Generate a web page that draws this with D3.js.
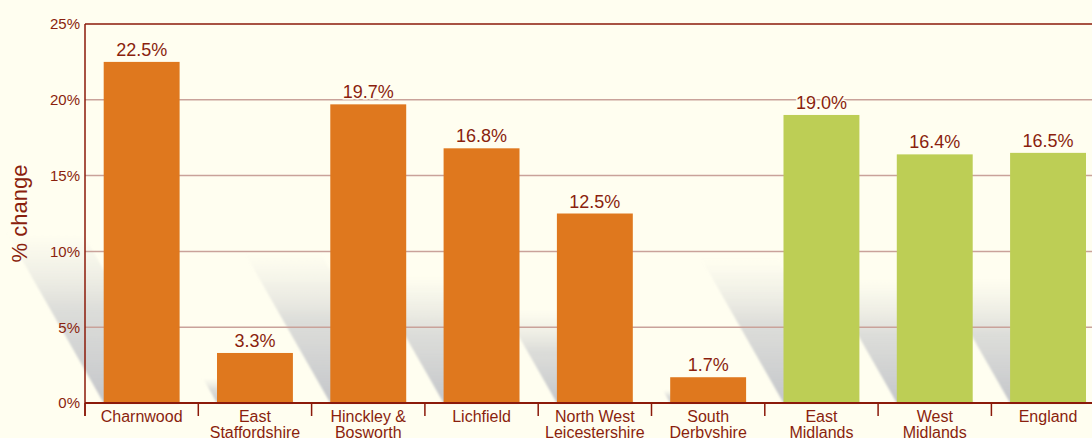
<!DOCTYPE html>
<html>
<head>
<meta charset="utf-8">
<script src="https://cdn.jsdelivr.net/npm/d3@7"></script>
<style>
  html, body { margin: 0; padding: 0; background: #fffef0; }
  svg { display: block; font-family: "Liberation Sans", Arial, sans-serif; }
</style>
</head>
<body>
<script>
// data
const categories = ["Charnwood", "East Staffordshire", "Hinckley & Bosworth", "Lichfield",
  "North West Leicestershire", "South Derbyshire", "East Midlands", "West Midlands", "England"];
const labelLines = [["Charnwood"], ["East", "Staffordshire"], ["Hinckley &", "Bosworth"], ["Lichfield"],
  ["North West", "Leicestershire"], ["South", "Derbyshire"], ["East", "Midlands"], ["West", "Midlands"], ["England"]];
const values = [22.5, 3.3, 19.7, 16.8, 12.5, 1.7, 19.0, 16.4, 16.5];
const groups = ["district", "district", "district", "district", "district", "district", "region", "region", "region"];
const yTicks = [0, 5, 10, 15, 20, 25];

const width = 1092, height = 438;
const margin = { top: 24, left: 85, bottom: 35 };
const bg = "#fffef0";
const textCol = "#8a1f0e";
const axisCol = "#8b1a0a";
const gridCol = "#c9a29a";
const color = d3.scaleOrdinal().domain(["district", "region"]).range(["#df781e", "#bdce55"]);

const svg = d3.select("body").append("svg")
  .attr("width", width)
  .attr("height", height);

svg.append("rect").attr("width", width).attr("height", height).attr("fill", bg);

const defs = svg.append("defs");
const grad = defs.append("linearGradient")
  .attr("id", "shade").attr("x1", 0).attr("y1", 1).attr("x2", 0).attr("y2", 0);
grad.append("stop").attr("offset", "0%").attr("stop-color", "#c4c6ca").attr("stop-opacity", 1);
grad.append("stop").attr("offset", "55%").attr("stop-color", "#d4d5d4").attr("stop-opacity", 0.8);
grad.append("stop").attr("offset", "100%").attr("stop-color", "#e4e4de").attr("stop-opacity", 0);
defs.append("filter").attr("id", "soft")
  .attr("x", "-20%").attr("y", "-20%").attr("width", "140%").attr("height", "140%")
  .append("feGaussianBlur").attr("stdDeviation", 1.2);

const x = d3.scaleBand()
  .domain(categories)
  .range([margin.left, margin.left + 9 * 113.3])
  .paddingInner(0.33)
  .paddingOuter(0.165);

const y = d3.scaleLinear().domain([0, 25]).range([height - margin.bottom, margin.top]);
const y0 = y(0);

// shadows (bar skewed up-left, half its height)
const skew = 0.57;
svg.append("g")
  .selectAll("path")
  .data(values)
  .join("path")
  .attr("d", (d, i) => {
    const x0 = x(categories[i]), x1 = x0 + x.bandwidth();
    const sh = (y0 - y(d)) * 0.5;
    const off = sh * skew;
    return `M${x0},${y0}L${x1},${y0}L${x1 - off},${y0 - sh}L${x0 - off},${y0 - sh}Z`;
  })
  .attr("fill", "url(#shade)")
  .attr("filter", "url(#soft)");

// grid
svg.append("g")
  .selectAll("line")
  .data(yTicks.filter(t => t > 0 && t < 25))
  .join("line")
  .attr("x1", margin.left).attr("x2", width)
  .attr("y1", d => y(d)).attr("y2", d => y(d))
  .attr("stroke", gridCol).attr("stroke-width", 1.5);

// top border
svg.append("line")
  .attr("x1", margin.left).attr("x2", width)
  .attr("y1", y(25)).attr("y2", y(25))
  .attr("stroke", axisCol).attr("stroke-width", 1.5);

// y axis
const yAxis = svg.append("g")
  .attr("transform", `translate(${margin.left},0)`)
  .call(d3.axisLeft(y).tickValues(yTicks).tickSize(0).tickPadding(5).tickFormat(d => d + "%"));
yAxis.select(".domain").attr("stroke", axisCol).attr("stroke-width", 1.5).attr("d", `M0,${y(25)}V${y0 + 13}`);
yAxis.selectAll("text").attr("fill", textCol).attr("font-size", 15).attr("font-family", "Liberation Sans, Arial, sans-serif");

// bars
svg.append("g")
  .selectAll("rect")
  .data(values)
  .join("rect")
  .attr("x", (d, i) => x(categories[i]))
  .attr("y", d => y(d))
  .attr("width", x.bandwidth())
  .attr("height", d => y0 - y(d))
  .attr("fill", (d, i) => color(groups[i]));

// value labels
svg.append("g")
  .selectAll("text")
  .data(values)
  .join("text")
  .attr("x", (d, i) => x(categories[i]) + x.bandwidth() / 2)
  .attr("y", d => y(d) - 6)
  .attr("text-anchor", "middle")
  .attr("font-size", 18)
  .attr("fill", textCol)
  .attr("stroke", bg).attr("stroke-width", 3).attr("paint-order", "stroke")
  .text(d => d.toFixed(1) + "%");

// x axis
svg.append("line")
  .attr("x1", margin.left).attr("x2", width)
  .attr("y1", y0).attr("y2", y0)
  .attr("stroke", axisCol).attr("stroke-width", 2);

const step = x.step();
svg.append("g")
  .selectAll("line")
  .data(categories)
  .join("line")
  .attr("x1", (d, i) => margin.left + i * step).attr("x2", (d, i) => margin.left + i * step)
  .attr("y1", y0).attr("y2", y0 + 13)
  .attr("stroke", axisCol).attr("stroke-width", 1.5);

const catText = svg.append("g")
  .selectAll("text")
  .data(categories)
  .join("text")
  .attr("x", d => x(d) + x.bandwidth() / 2)
  .attr("y", y0 + 19)
  .attr("text-anchor", "middle")
  .attr("font-size", 16)
  .attr("fill", textCol);
catText.each(function (d, i) {
  d3.select(this).selectAll("tspan")
    .data(labelLines[i])
    .join("tspan")
    .attr("x", x(d) + x.bandwidth() / 2)
    .attr("dy", (t, j) => j === 0 ? 0 : 16)
    .text(t => t);
});

// y title
svg.append("text")
  .attr("transform", `translate(27,${(y(25) + y0) / 2}) rotate(-90)`)
  .attr("text-anchor", "middle")
  .attr("font-size", 22)
  .attr("fill", textCol)
  .text("% change");
</script>
</body>
</html>
